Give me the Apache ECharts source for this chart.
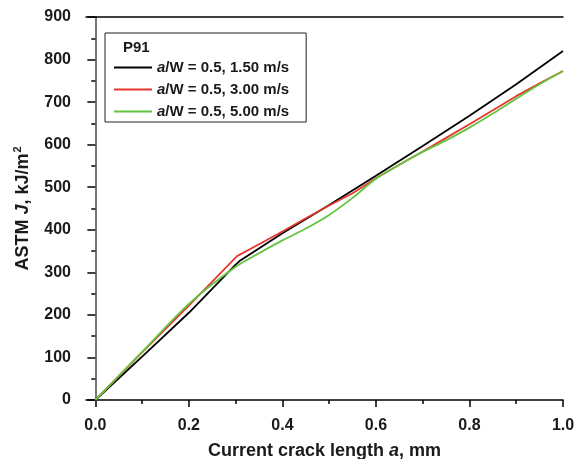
<!DOCTYPE html>
<html>
<head>
<meta charset="utf-8">
<script src="https://cdn.jsdelivr.net/npm/echarts@6/dist/echarts.min.js"></script>
<style>
  html, body { margin: 0; padding: 0; background: #fff; }
  #chart { width: 579px; height: 459px; }
</style>
</head>
<body>
<div id="chart"></div>
<script>
// Crack length (mm) sample positions and J values (kJ/m^2) for each loading rate
const xBlack = [0, 0.1, 0.2, 0.3, 0.31, 0.4, 0.5, 0.6, 0.7, 0.8, 0.9, 1.0];
const jBlack = [0, 102, 205, 318, 328, 392, 458, 527, 597, 668, 742, 820];

const xRed = [0, 0.1, 0.2, 0.303, 0.35, 0.4, 0.45, 0.5, 0.55, 0.6, 0.65, 0.7, 0.75, 0.8, 0.85, 0.9, 0.95, 1.0];
const jRed = [0, 112, 222, 338, 366, 396, 427, 457, 486, 521, 553, 584, 616, 648, 681, 714, 744, 773];

const xGreen = [0, 0.1, 0.2, 0.3, 0.35, 0.4, 0.45, 0.5, 0.55, 0.6, 0.65, 0.7, 0.75, 0.8, 0.85, 0.9, 0.95, 1.0];
const jGreen = [0, 113, 226, 313, 345, 375, 403, 435, 475, 520, 553, 583, 610, 640, 673, 708, 742, 773];

const seriesNames = ['a/W = 0.5, 1.50 m/s', 'a/W = 0.5, 3.00 m/s', 'a/W = 0.5, 5.00 m/s'];
const seriesColors = ['#000000', '#e5372d', '#63c43f'];

const xMajorTicks = [0, 0.2, 0.4, 0.6, 0.8, 1.0];
const xMinorTicks = [0.1, 0.3, 0.5, 0.7, 0.9];

const pairs = (xs, ys) => xs.map((x, i) => [x, ys[i]]);
const textColor = '#1a1a1a';
const fontFamily = '"Liberation Sans", Arial, sans-serif';

const chart = echarts.init(document.getElementById('chart'));

chart.setOption({
  backgroundColor: '#fff',
  animation: false,
  textStyle: { fontFamily: fontFamily, color: textColor },
  grid: { left: 86, right: 16, top: 17, bottom: 59, containLabel: false, outerBoundsMode: 'none' },
  title: {
    text: 'P91',
    left: 123, top: 40, padding: 0,
    textStyle: { fontFamily: fontFamily, fontSize: 15, fontWeight: 'bold', color: textColor }
  },
  legend: {
    left: 105, top: 33,
    orient: 'vertical',
    padding: [27, 17, 3, 9],
    borderColor: '#222', borderWidth: 1,
    icon: 'rect',
    itemWidth: 38, itemHeight: 2, itemGap: 7,
    data: seriesNames,
    formatter: name => '{i|a}{b|' + name.slice(1) + '}',
    textStyle: {
      color: textColor,
      rich: {
        i: { fontFamily: fontFamily, fontSize: 15, lineHeight: 14, fontWeight: 'bold', fontStyle: 'italic', color: textColor },
        b: { fontFamily: fontFamily, fontSize: 15, lineHeight: 14, fontWeight: 'bold', color: textColor }
      }
    }
  },
  xAxis: [
    {
      type: 'value', min: -0.02, max: 1.0, position: 'bottom',
      axisLine: { show: true, lineStyle: { color: '#000', width: 1.5 } },
      axisTick: { show: true, customValues: xMajorTicks, length: 7, lineStyle: { color: '#000', width: 1.5 } },
      axisLabel: {
        customValues: xMajorTicks, margin: 18,
        formatter: v => v.toFixed(1),
        fontSize: 16, fontWeight: 'bold', color: textColor, fontFamily: fontFamily
      },
      splitLine: { show: false },
      name: '{b|Current crack length }{i|a}{b|, mm}',
      nameLocation: 'middle', nameGap: 42,
      nameTextStyle: {
        rich: {
          b: { fontFamily: fontFamily, fontSize: 18, fontWeight: 'bold', color: textColor },
          i: { fontFamily: fontFamily, fontSize: 18, fontWeight: 'bold', fontStyle: 'italic', color: textColor }
        }
      }
    },
    {
      type: 'value', min: -0.02, max: 1.0, position: 'bottom',
      axisLine: { show: false },
      axisTick: { show: true, customValues: xMinorTicks, length: 4, lineStyle: { color: '#000', width: 1.5 } },
      axisLabel: { show: false },
      splitLine: { show: false }
    },
    {
      type: 'value', min: -0.02, max: 1.0, position: 'top',
      axisLine: { show: true, lineStyle: { color: '#000', width: 1.5 } },
      axisTick: { show: false }, axisLabel: { show: false }, splitLine: { show: false }
    }
  ],
  yAxis: [
    {
      type: 'value', min: 0, max: 900, interval: 100, position: 'left',
      axisLine: { show: true, lineStyle: { color: '#000', width: 1.5 } },
      axisTick: { show: true, length: 8, lineStyle: { color: '#000', width: 1.5 } },
      minorTick: { show: true, splitNumber: 2, length: 4, lineStyle: { color: '#000', width: 1.5 } },
      axisLabel: { margin: 15, fontSize: 16, fontWeight: 'bold', color: textColor, fontFamily: fontFamily },
      splitLine: { show: false }, minorSplitLine: { show: false },
      name: '{b|ASTM }{i|J}{b|, kJ/m}{s|2}',
      nameLocation: 'middle', nameGap: 51, nameRotate: 90,
      nameTextStyle: {
        rich: {
          b: { fontFamily: fontFamily, fontSize: 18, fontWeight: 'bold', color: textColor },
          i: { fontFamily: fontFamily, fontSize: 18, fontWeight: 'bold', fontStyle: 'italic', color: textColor },
          s: { fontFamily: fontFamily, fontSize: 11, fontWeight: 'bold', color: textColor, padding: [0, 0, 12, 1] }
        }
      }
    },
    {
      type: 'value', min: 0, max: 900, position: 'right',
      axisLine: { show: true, lineStyle: { color: '#8a8a8a', width: 1.5 } },
      axisTick: { show: false }, axisLabel: { show: false }, splitLine: { show: false }
    }
  ],
  series: [
    { name: seriesNames[0], type: 'line', data: pairs(xBlack, jBlack), symbol: 'none',
      lineStyle: { color: seriesColors[0], width: 1.8 }, itemStyle: { color: seriesColors[0] } },
    { name: seriesNames[1], type: 'line', data: pairs(xRed, jRed), symbol: 'none',
      lineStyle: { color: seriesColors[1], width: 1.8 }, itemStyle: { color: seriesColors[1] } },
    { name: seriesNames[2], type: 'line', data: pairs(xGreen, jGreen), symbol: 'none', smooth: 0.3,
      lineStyle: { color: seriesColors[2], width: 1.8 }, itemStyle: { color: seriesColors[2] } }
  ]
});
</script>
</body>
</html>
